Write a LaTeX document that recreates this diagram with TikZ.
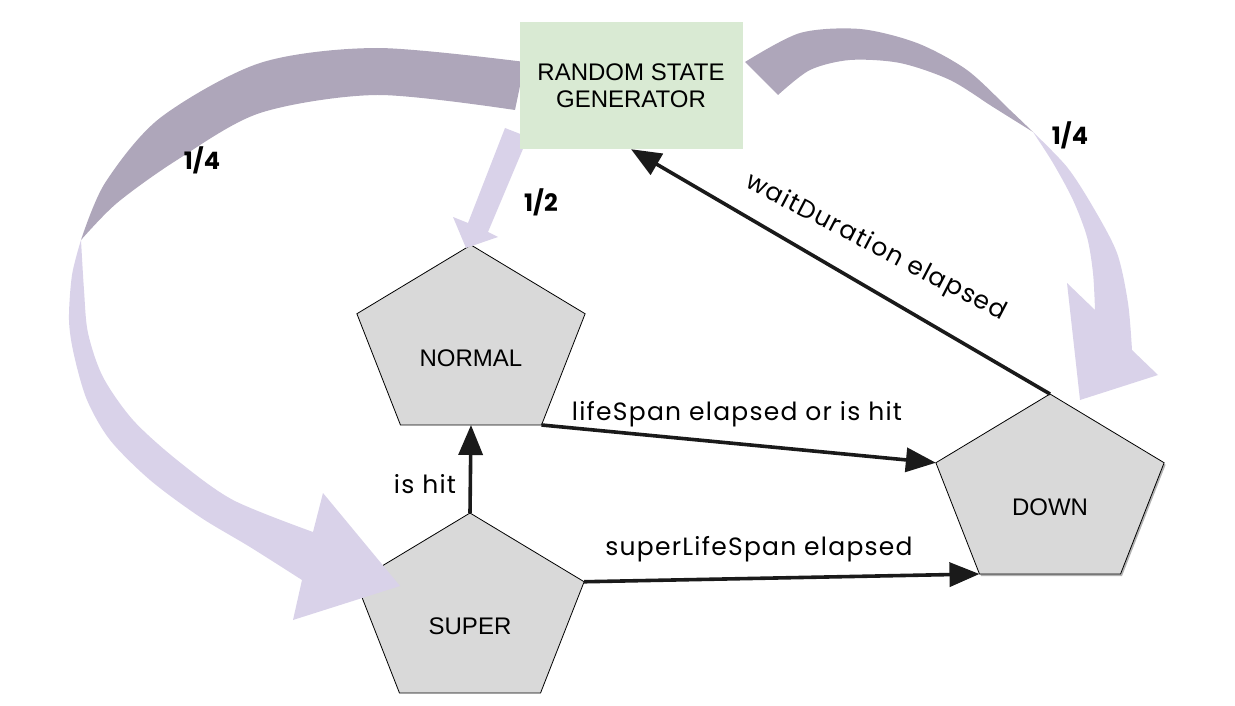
\documentclass[tikz,border=0pt]{standalone}
\usepackage{fontspec}
\setmainfont{Liberation Sans}
\newfontfamily\labelfont[LetterSpace=5]{Poppins}
\newfontfamily\probfont{Poppins}
\usetikzlibrary{arrows.meta}
\definecolor{genfill}{HTML}{D9EAD3}
\definecolor{stategrey}{HTML}{D9D9D9}
\definecolor{flowdark}{HTML}{AEA6BA}
\definecolor{flowlight}{HTML}{D9D2E9}
\definecolor{arrowink}{HTML}{1A1A1A}

\begin{document}
\begin{tikzpicture}[x=1pt, y=-1pt,
  genbox/.style={fill=genfill, minimum width=223pt, minimum height=127pt, inner sep=0pt,
    align=center, font=\fontsize{24}{26.7}\selectfont},
  statebox/.style={draw=black, fill=stategrey, line width=0.8pt},
  statetext/.style={font=\fontsize{24}{28}\selectfont},
  trans/.style={draw=arrowink, line width=3.6pt, -{Triangle[length=30pt,width=24pt]}},
  translbl/.style={font=\labelfont\fontsize{25}{28}\selectfont, anchor=base, inner sep=0pt},
  probtxt/.style={font=\probfont\bfseries\fontsize{24}{28}\selectfont},
  flowback/.style={fill=flowdark},
  flowfront/.style={fill=flowlight},
]
\useasboundingbox (0,0) rectangle (1235,706);

% soft shadow under DOWN
\begin{scope}[shift={(1051.5,495.5)}, xscale=1.206]
  \fill[black, opacity=0.3] (-90:99.5) -- (-162:99.5) -- (126:99.5) -- (54:99.5) -- (-18:99.5) -- cycle;
\end{scope}

% states (stretched pentagons)
\foreach \name/\cx/\ty/\txt in {normal/471/245/NORMAL, super/470/513/SUPER, down/1050/394/DOWN} {
  \begin{scope}[shift={(\cx,\ty+99.5)}, xscale=1.206]
    \draw[statebox] (-90:99.5) coordinate (\name-t) -- (-162:99.5) coordinate (\name-ul)
      -- (126:99.5) coordinate (\name-ll) -- (54:99.5) coordinate (\name-lr)
      -- (-18:99.5) coordinate (\name-ur) -- cycle;
    \coordinate (\name-b) at (90:80.5);
  \end{scope}
  \node[statetext] (\name) at (\cx,\ty+113) {\txt};
}

% flow arrows out of the generator
\fill[flowback] plot[smooth] coordinates {(525,62) (377,48) (260,63) (160,118) (105,183) (81,240)}
  -- plot[smooth] coordinates {(81,240) (117,203) (177,160) (260,113) (377,95) (515,110)} -- cycle;
\fill[flowfront] plot[smooth] coordinates {(81,240) (72,275) (69,320) (74,355) (87,400) (110,440) (150,480) (200,517) (250,547) (302,580)}
  -- (293,620) -- (400,586) -- (323,493) -- (313,532)
  -- plot[smooth] coordinates {(313,532) (233,500) (177,460) (133,420) (103,377) (88,333) (84,290) (81,240)} -- cycle;

\fill[flowback] plot[smooth] coordinates {(745,62) (800,33) (860,29) (917,43) (967,70) (1010,110) (1033,132)}
  -- plot[smooth] coordinates {(1033,132) (993,107) (950,80) (900,63) (850,60) (810,70) (778,95)} -- cycle;
\fill[flowfront] plot[smooth] coordinates {(1033,132) (1067,167) (1093,207) (1117,253) (1128,303) (1132,350)}
  -- (1158,375) -- (1080,400) -- (1067,283) -- (1095,310)
  -- plot[smooth] coordinates {(1095,310) (1093,273) (1087,237) (1073,200) (1053,163) (1033,132)} -- cycle;

\fill[flowfront] (505,128) -- (468,223) -- (453,217) -- (466,248) -- (498,237) -- (488,232) -- (528,137) -- cycle;

\node[genbox] (rsg) at (631,85.5) {RANDOM STATE\\GENERATOR};

% transitions
\draw[trans] (normal-lr) -- (down-ul);
\draw[trans] (super-ur) -- (down-ll);
\draw[trans] (super-t) -- (normal-b);
\draw[trans] (down-t) -- (rsg.south);

\node[translbl] (lbl-life) at (737,420) {lifeSpan elapsed or is hit};
\node[translbl] (lbl-super) at (759,555) {superLifeSpan elapsed};
\node[translbl] (lbl-hit) at (425,493) {is hit};
\node[translbl, anchor=center, rotate=-27.5] (lbl-wait) at (876,248) {waitDuration elapsed};

\node[probtxt] (p-left) at (202,160) {1/4};
\node[probtxt] (p-mid) at (541,202) {1/2};
\node[probtxt] (p-right) at (1070,135) {1/4};
\end{tikzpicture}
\end{document}
